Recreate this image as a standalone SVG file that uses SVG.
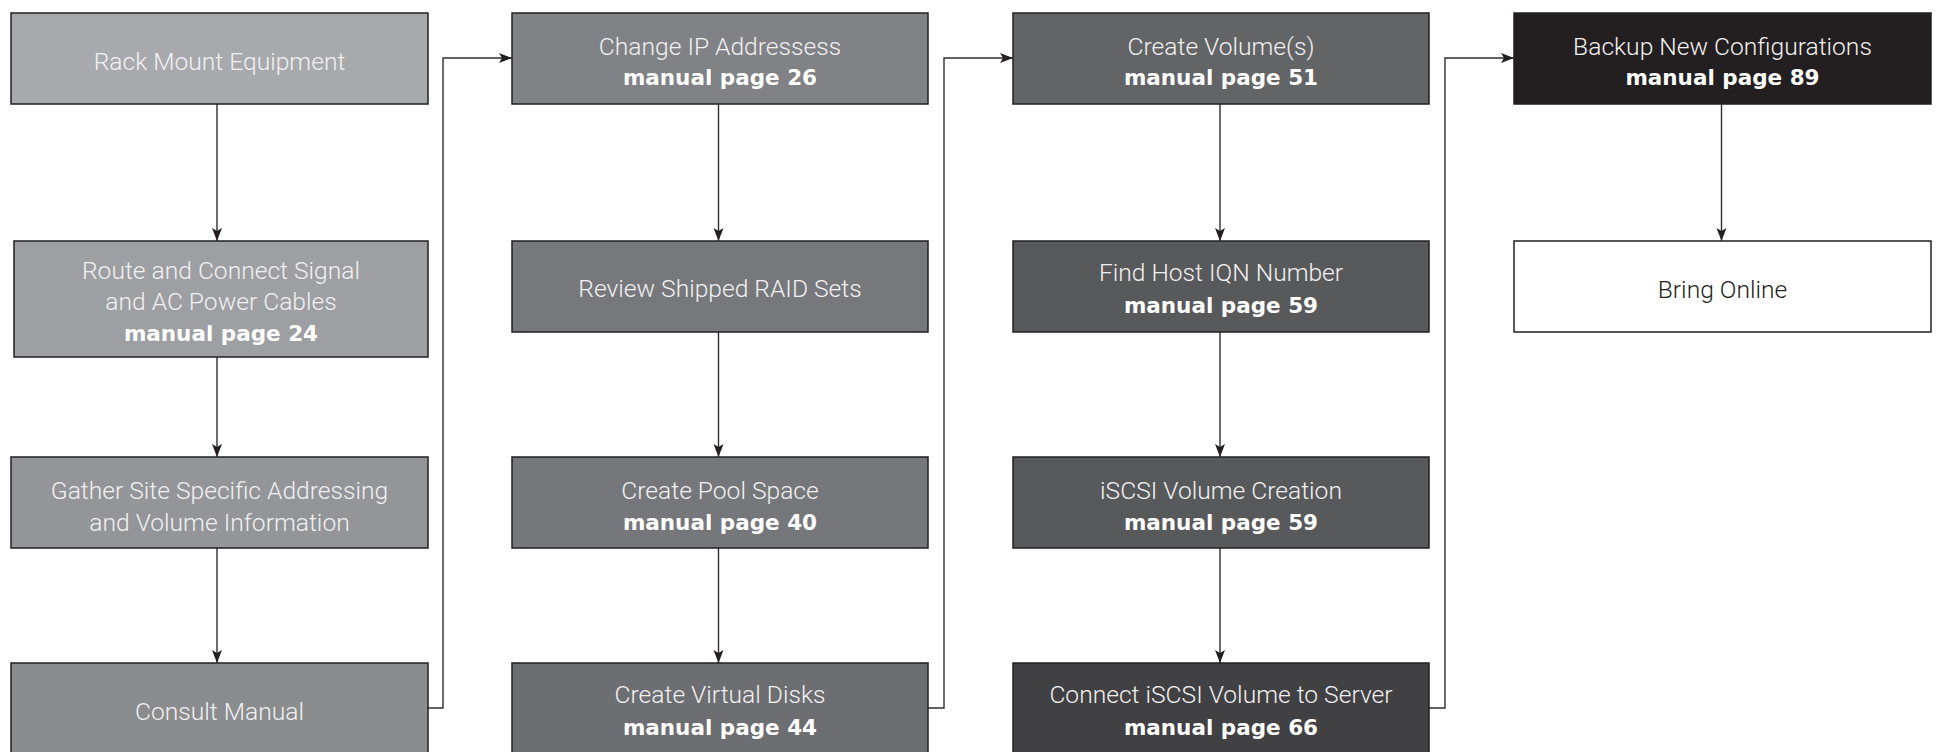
<svg xmlns="http://www.w3.org/2000/svg" width="1943" height="752" viewBox="0 0 1943 752">
<defs>
<marker id="arr" markerUnits="userSpaceOnUse" markerWidth="15" markerHeight="11" refX="13" refY="5" orient="auto">
<path d="M0,0 L13,5 L0,10 L3,5 z" fill="#231f20"/>
</marker>
<style>
.box{stroke:#231f20;stroke-width:1.5}
.t{font-family:Roboto,"Liberation Sans",sans-serif;font-weight:300;font-size:24.6px;fill:#f1f1f2;text-anchor:middle}
.b{font-family:"DejaVu Sans","Liberation Sans",sans-serif;font-weight:bold;font-size:21.5px;fill:#ffffff;text-anchor:middle}
.dk{fill:#231f20}
.c{fill:none;stroke:#2e2d2f;stroke-width:1.4}
</style>
</defs>
<rect width="1943" height="752" fill="#ffffff"/>
<g id="connectors">
<path class="c" d="M217,104 V241" marker-end="url(#arr)"/>
<path class="c" d="M217,357 V457" marker-end="url(#arr)"/>
<path class="c" d="M217,548 V663" marker-end="url(#arr)"/>
<path class="c" d="M428,708 H443 V58 H512" marker-end="url(#arr)"/>
<path class="c" d="M718.5,104 V241" marker-end="url(#arr)"/>
<path class="c" d="M718.5,332 V457" marker-end="url(#arr)"/>
<path class="c" d="M718.5,548 V663" marker-end="url(#arr)"/>
<path class="c" d="M928,708 H944 V58 H1013" marker-end="url(#arr)"/>
<path class="c" d="M1220,104 V241" marker-end="url(#arr)"/>
<path class="c" d="M1220,332 V457" marker-end="url(#arr)"/>
<path class="c" d="M1220,548 V663" marker-end="url(#arr)"/>
<path class="c" d="M1429,708 H1445 V58 H1514" marker-end="url(#arr)"/>
<path class="c" d="M1721.5,104 V241" marker-end="url(#arr)"/>
</g>
<g id="n1">
<rect class="box" x="11" y="13" width="417" height="91" fill="#a7a9ac"/>
<text class="t" x="219.5" y="70">Rack Mount Equipment</text>
</g>
<g id="n2">
<rect class="box" x="14" y="241" width="414" height="116" fill="#9d9fa2"/>
<text class="t" x="221" y="279">Route and Connect Signal</text>
<text class="t" x="221" y="310">and AC Power Cables</text>
<text class="b" x="221" y="341">manual page 24</text>
</g>
<g id="n3">
<rect class="box" x="11" y="457" width="417" height="91" fill="#939598"/>
<text class="t" x="219.5" y="499">Gather Site Specific Addressing</text>
<text class="t" x="219.5" y="530.5">and Volume Information</text>
</g>
<g id="n4">
<rect class="box" x="11" y="663" width="417" height="92" fill="#8a8c8e"/>
<text class="t" x="219.5" y="720">Consult Manual</text>
</g>
<g id="n5">
<rect class="box" x="512" y="13" width="416" height="91" fill="#808285"/>
<text class="t" x="720" y="55">Change IP Addressess</text>
<text class="b" x="720" y="85">manual page 26</text>
</g>
<g id="n6">
<rect class="box" x="512" y="241" width="416" height="91" fill="#77787b"/>
<text class="t" x="720" y="297">Review Shipped RAID Sets</text>
</g>
<g id="n7">
<rect class="box" x="512" y="457" width="416" height="91" fill="#76777a"/>
<text class="t" x="720" y="499">Create Pool Space</text>
<text class="b" x="720" y="529.5">manual page 40</text>
</g>
<g id="n8">
<rect class="box" x="512" y="663" width="416" height="92" fill="#6d6e71"/>
<text class="t" x="720" y="703">Create Virtual Disks</text>
<text class="b" x="720" y="734.5">manual page 44</text>
</g>
<g id="n9">
<rect class="box" x="1013" y="13" width="416" height="91" fill="#636466"/>
<text class="t" x="1221" y="55">Create Volume(s)</text>
<text class="b" x="1221" y="85">manual page 51</text>
</g>
<g id="n10">
<rect class="box" x="1013" y="241" width="416" height="91" fill="#58595b"/>
<text class="t" x="1221" y="281">Find Host IQN Number</text>
<text class="b" x="1221" y="312.5">manual page 59</text>
</g>
<g id="n11">
<rect class="box" x="1013" y="457" width="416" height="91" fill="#58595b"/>
<text class="t" x="1221" y="499">iSCSI Volume Creation</text>
<text class="b" x="1221" y="529.5">manual page 59</text>
</g>
<g id="n12">
<rect class="box" x="1013" y="663" width="416" height="92" fill="#414042"/>
<text class="t" x="1221" y="703">Connect iSCSI Volume to Server</text>
<text class="b" x="1221" y="734.5">manual page 66</text>
</g>
<g id="n13">
<rect class="box" x="1514" y="13" width="417" height="91" fill="#231f20"/>
<text class="t" x="1722.5" y="55">Backup New Configurations</text>
<text class="b" x="1722.5" y="85">manual page 89</text>
</g>
<g id="n14">
<rect class="box" x="1514" y="241" width="417" height="91" fill="#ffffff"/>
<text class="t dk" x="1722.5" y="298">Bring Online</text>
</g>
</svg>
